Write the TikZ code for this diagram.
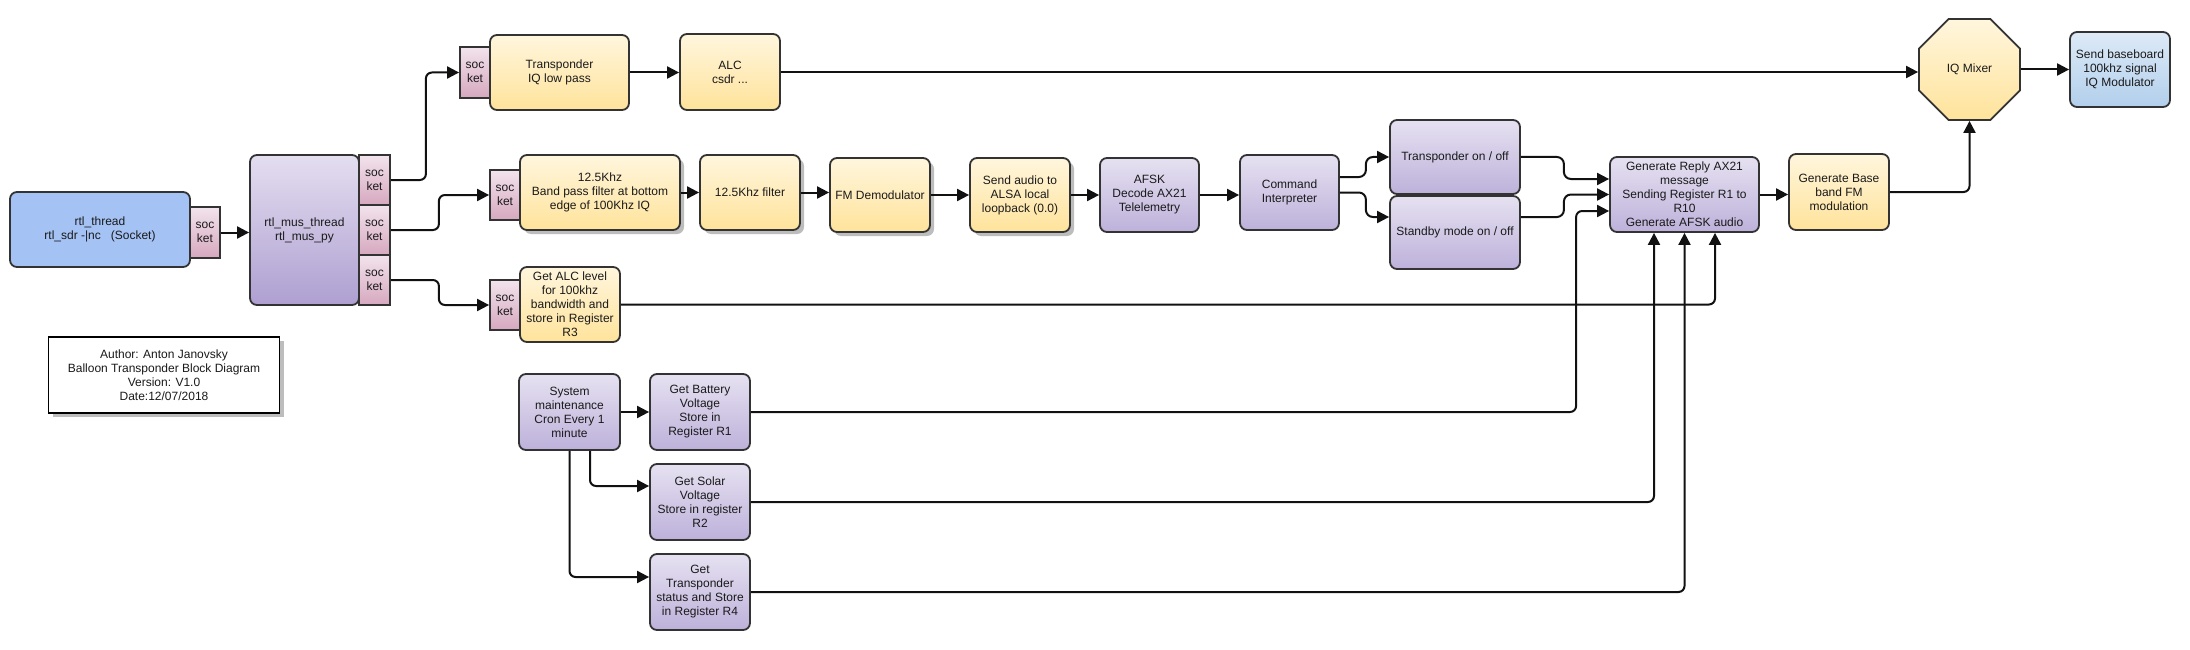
\documentclass[tikz,border=0pt]{standalone}
\usepackage{fontspec}
\setmainfont{Liberation Sans}
\usetikzlibrary{shapes.geometric}
\usetikzlibrary{shadows}
\usetikzlibrary{arrows.meta}
\definecolor{edge}{HTML}{333333}
\definecolor{txt}{HTML}{1A1A1A}
\definecolor{wire}{HTML}{111111}
\definecolor{rtlblue}{HTML}{A4C2F4}
\definecolor{yltop}{HTML}{FFF6DD}
\definecolor{ylbot}{HTML}{FFE39B}
\definecolor{pltop}{HTML}{E6E1F1}
\definecolor{plbot}{HTML}{BDB1DA}
\definecolor{mustop}{HTML}{E4DEF0}
\definecolor{musbot}{HTML}{AE9FD1}
\definecolor{pktop}{HTML}{F2E3EC}
\definecolor{pkbot}{HTML}{D6A8BF}
\definecolor{bltop}{HTML}{DDEAF7}
\definecolor{blbot}{HTML}{B2CFEC}
\definecolor{shd}{HTML}{BDBDBD}
\tikzstyle{block}=[draw=edge, line width=1.8pt, rounded corners=7pt, align=center, inner sep=2pt, text=txt, font=\fontsize{12}{14}\selectfont]
\tikzstyle{yblock}=[block, top color=yltop, bottom color=ylbot]
\tikzstyle{pblock}=[block, top color=pltop, bottom color=plbot]
\tikzstyle{sock}=[block, rounded corners=0pt, inner sep=0pt, minimum width=30pt, minimum height=50pt, top color=pktop, bottom color=pkbot]
\tikzstyle{shadowed}=[drop shadow={shadow xshift=4pt, shadow yshift=-4pt, fill=shd, opacity=1}]
\tikzstyle{arr}=[draw=wire, line width=2pt, -{Triangle[length=12pt, width=12pt]}]

\begin{document}
\begin{tikzpicture}[x=1pt, y=-1pt]
    \useasboundingbox (0,0) rectangle (2190,650);
    % sdr thread and its sockets
    \node[block, fill=rtlblue, minimum width=180pt, minimum height=75pt] (rtl) at (100,229.5) {rtl\_thread\\rtl\_sdr -|nc\ \ \ (Socket)};
    \node[sock, minimum height=51pt] (rtlsock) at (205,232.5) {soc\\ket};
    \node[block, top color=mustop, bottom color=musbot, minimum width=109pt, minimum height=150pt] (mus) at (304.5,230) {rtl\_mus\_thread\\rtl\_mus\_py};
    \node[sock, minimum width=31pt] (s1) at (374.5,180) {soc\\ket};
    \node[sock, minimum width=31pt] (s2) at (374.5,230) {soc\\ket};
    \node[sock, minimum width=31pt] (s3) at (374.5,280) {soc\\ket};
    % transponder path
    \node[sock, minimum height=51pt] (iqsock) at (475,72.5) {soc\\ket};
    \node[yblock, minimum width=139pt, minimum height=75pt] (iqlp) at (559.5,72.5) {Transponder\\IQ low pass};
    \node[yblock, minimum width=100pt, minimum height=76pt] (alc) at (730,72) {ALC\\csdr ...};
    \node[yblock, minimum width=101pt, minimum height=101pt, shape=regular polygon, regular polygon sides=8, minimum size=109.3pt, inner sep=0pt, rounded corners=0pt] (mixer) at (1969.5,69.5) {IQ Mixer};
    \node[block, top color=bltop, bottom color=blbot, minimum width=100pt, minimum height=75pt] (out) at (2120,69.5) {Send baseboard\\100khz signal\\IQ Modulator};
    % telecommand path
    \node[sock] (bpsock) at (505,195) {soc\\ket};
    \node[yblock, shadowed, minimum width=160pt, minimum height=75pt] (bp) at (600,192.5) {12.5Khz\\Band pass filter at bottom\\edge of 100Khz IQ};
    \node[yblock, shadowed, minimum width=100pt, minimum height=75pt] (flt) at (750,192.5) {12.5Khz filter};
    \node[yblock, shadowed, minimum width=100pt, minimum height=74pt] (fm) at (880,195) {FM Demodulator};
    \node[yblock, shadowed, minimum width=100pt, minimum height=74pt] (audio) at (1020,195) {Send audio to\\ALSA local\\loopback (0.0)};
    \node[pblock, minimum width=99pt, minimum height=74pt] (afsk) at (1149.5,195) {AFSK\\Decode AX21\\Telelemetry};
    \node[pblock, minimum width=99pt, minimum height=75pt] (cmd) at (1289.5,192.5) {Command\\Interpreter};
    \node[pblock, minimum width=130pt, minimum height=74pt] (tpon) at (1455,157) {Transponder on / off};
    \node[pblock, minimum width=130pt, minimum height=73pt] (stby) at (1455,232.5) {Standby mode on / off};
    \node[pblock, minimum width=149pt, minimum height=75pt] (reply) at (1684.5,194.5) {Generate Reply AX21\\message\\Sending Register R1 to\\R10\\Generate AFSK audio};
    \node[yblock, minimum width=100pt, minimum height=76pt] (bb) at (1839,192) {Generate Base\\band FM\\modulation};
    % level and housekeeping
    \node[sock] (alcsock) at (505,305) {soc\\ket};
    \node[yblock, minimum width=100pt, minimum height=75pt] (alclvl) at (570,304.5) {Get ALC level\\for 100khz\\bandwidth and\\store in Register\\R3};
    \node[block, rounded corners=0pt, draw=black, fill=white, shadowed, minimum width=231pt, minimum height=76pt] (author) at (164,375) {Author: Anton Janovsky\\Balloon Transponder Block Diagram\\Version: V1.0\\Date:12/07/2018};
    \node[pblock, minimum width=101pt, minimum height=76pt] (sys) at (569.5,412) {System\\maintenance\\Cron Every 1\\minute};
    \node[pblock, minimum width=100pt, minimum height=76pt] (bat) at (700,412) {Get Battery\\Voltage\\Store in\\Register R1};
    \node[pblock, minimum width=100pt, minimum height=76pt] (sol) at (700,502) {Get Solar\\Voltage\\Store in register\\R2};
    \node[pblock, minimum width=100pt, minimum height=76pt] (tst) at (700,592) {Get\\Transponder\\status and Store\\in Register R4};

    \draw[arr] (rtlsock.east) -- (rtlsock.east -| mus.west);
    \draw[arr, rounded corners=6pt] (s1.east) -- +(35,0) |- (iqsock.west);
    \draw[arr, rounded corners=6pt] (s2.east) -- +(48,0) |- (bpsock.west);
    \draw[arr, rounded corners=6pt] (s3.east) -- +(48,0) |- (alcsock.west);
    \draw[arr] (iqlp.east) -- (iqlp.east -| alc.west);
    \draw[arr] (alc.east) -- (alc.east -| mixer.west);
    \draw[arr] (mixer.east) -- (mixer.east -| out.west);
    \draw[arr] (bp.east) -- (bp.east -| flt.west);
    \draw[arr] (flt.east) -- (flt.east -| fm.west);
    \draw[arr] (fm.east) -- (fm.east -| audio.west);
    \draw[arr] (audio.east) -- (audio.east -| afsk.west);
    \draw[arr] (afsk.east) -- (afsk.east -| cmd.west);
    \draw[arr, rounded corners=7pt] ([yshift=15.5pt]cmd.east) -- +(26,0) |- (tpon.west);
    \draw[arr, rounded corners=7pt] (cmd.east) -- +(26,0) |- ([yshift=15.5pt]stby.west);
    \draw[arr, rounded corners=7pt] (tpon.east) -- +(43,0) |- ([yshift=15.5pt]reply.west);
    \draw[arr, rounded corners=7pt] ([yshift=15.5pt]stby.east) -- +(43,0) |- (reply.west);
    \draw[arr] (reply.east) -- (reply.east -| bb.west);
    \draw[arr, rounded corners=6pt] (bb.east) -| (mixer.south);
    \draw[arr, rounded corners=6pt] (alclvl.east) -| ([xshift=30.5pt]reply.south);
    \draw[arr] (sys.east) -- (bat.west);
    \draw[arr, rounded corners=6pt] ([xshift=20.5pt]sys.south) |- ([yshift=16pt]sol.west);
    \draw[arr, rounded corners=6pt] (sys.south) |- ([yshift=15pt]tst.west);
    \draw[arr, rounded corners=6pt] (bat.east) -| ([xshift=-33pt, yshift=-16.5pt]reply.west) -- ([yshift=-16.5pt]reply.west);
    \draw[arr, rounded corners=6pt] (sol.east) -| ([xshift=-30.5pt]reply.south);
    \draw[arr, rounded corners=6pt] (tst.east) -| (reply.south);
\end{tikzpicture}
\end{document}
